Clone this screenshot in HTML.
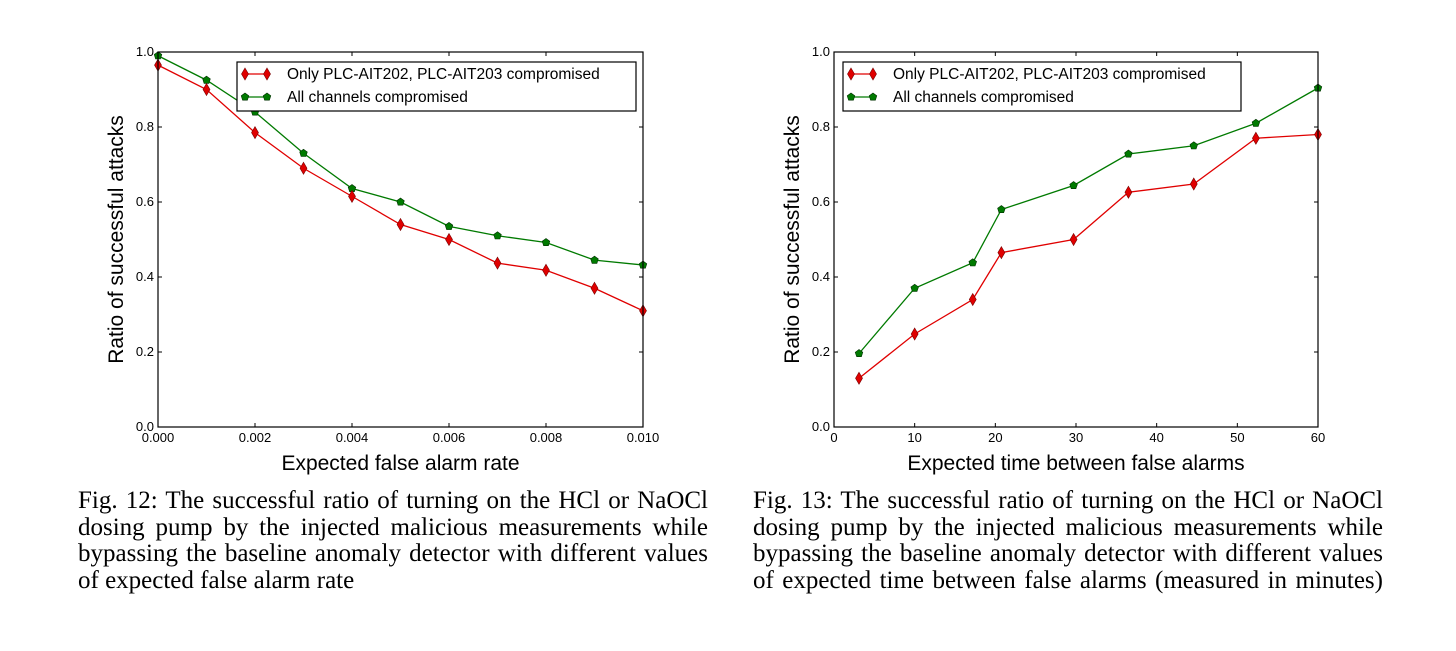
<!DOCTYPE html>
<html><head><meta charset="utf-8">
<style>
body{margin:0;background:#fff;width:1456px;height:651px;overflow:hidden;position:relative}
svg{position:absolute;left:0;top:0}
.cap{position:absolute;font-family:"Liberation Serif",serif;font-size:25px;line-height:26.7px;color:#000;width:630px}
.cap span{display:block;text-align:justify;text-align-last:justify;white-space:nowrap;height:26.7px}
.cap span.last{text-align-last:left}
</style></head><body>
<svg id="svg" width="1456" height="651"></svg>
<div class="cap" style="left:78px;top:488px"><span>Fig. 12: The successful ratio of turning on the HCl or NaOCl</span><span>dosing pump by the injected malicious measurements while</span><span>bypassing the baseline anomaly detector with different values</span><span class="last">of expected false alarm rate</span></div>
<div class="cap" style="left:753px;top:488px"><span>Fig. 13: The successful ratio of turning on the HCl or NaOCl</span><span>dosing pump by the injected malicious measurements while</span><span>bypassing the baseline anomaly detector with different values</span><span>of expected time between false alarms (measured in minutes)</span></div>
<script>
const leftX = [0,0.001,0.002,0.003,0.004,0.005,0.006,0.007,0.008,0.009,0.010];
const leftRed = [0.965,0.90,0.785,0.69,0.615,0.54,0.50,0.437,0.418,0.37,0.31];
const leftGreen = [0.99,0.925,0.84,0.73,0.636,0.60,0.535,0.51,0.492,0.445,0.432];
const leftXTicks = ["0.000","0.002","0.004","0.006","0.008","0.010"];
const rightX = [3.1,10,17.2,20.75,29.7,36.5,44.6,52.3,60];
const rightRed = [0.13,0.248,0.34,0.465,0.50,0.626,0.648,0.77,0.78];
const rightGreen = [0.196,0.37,0.438,0.58,0.644,0.728,0.75,0.81,0.904];
const rightXTicks = ["0","10","20","30","40","50","60"];
const yTicks = ["0.0","0.2","0.4","0.6","0.8","1.0"];
const legendLabels = ["Only PLC-AIT202, PLC-AIT203 compromised","All channels compromised"];

const NS="http://www.w3.org/2000/svg";
const svg=document.getElementById('svg');
function mk(tag,attrs,parent){const e=document.createElementNS(NS,tag);for(const k in attrs)e.setAttribute(k,attrs[k]);(parent||svg).appendChild(e);return e;}
const RED="#e00000",GREEN="#007a00",FONT='"Liberation Sans","DejaVu Sans",sans-serif';
function diamond(g,x,y){const p=mk('polygon',{points:`${x},${y-6} ${x+3.5},${y} ${x},${y+6} ${x-3.5},${y}`,fill:RED,stroke:'#700','stroke-width':0.6},g);}
function pent(g,x,y){let pts=[];for(let i=0;i<5;i++){const a=-Math.PI/2+i*2*Math.PI/5;pts.push((x+4*Math.cos(a)).toFixed(1)+','+(y+4*Math.sin(a)).toFixed(1));}const p=mk('polygon',{points:pts.join(' '),fill:GREEN,stroke:'#003000','stroke-width':0.6},g);}

function chart(name,L,R,xmin,xmax,xs,red,green,xticks,xlabel,legX,legW){
  const T=52,B=427;
  const g=mk('g',{});
  
  
  const sx=v=>L+(v-xmin)/(xmax-xmin)*(R-L), sy=v=>B-v*(B-T);
  yTicks.forEach(t=>{const v=parseFloat(t),y=sy(v);
    mk('line',{x1:L,x2:L+4,y1:y,y2:y,stroke:'#000','stroke-width':1},g);
    mk('line',{x1:R-4,x2:R,y1:y,y2:y,stroke:'#000','stroke-width':1},g);
    const tx=mk('text',{x:L-4,y:y+4,'text-anchor':'end','font-size':13,'font-family':FONT},g);tx.textContent=t;
    });
  xticks.forEach(t=>{const x=sx(parseFloat(t));
    mk('line',{x1:x,x2:x,y1:B,y2:B-4,stroke:'#000','stroke-width':1},g);
    mk('line',{x1:x,x2:x,y1:T,y2:T+4,stroke:'#000','stroke-width':1},g);
    const tx=mk('text',{x:x,y:B+15,'text-anchor':'middle','font-size':13,'font-family':FONT},g);tx.textContent=t;
    });
  const rl=mk('polyline',{points:xs.map((x,i)=>sx(x)+','+sy(red[i])).join(' '),fill:'none',stroke:RED,'stroke-width':1.3},g);
  
  const gl=mk('polyline',{points:xs.map((x,i)=>sx(x)+','+sy(green[i])).join(' '),fill:'none',stroke:GREEN,'stroke-width':1.3},g);
  
  xs.forEach((x,i)=>pent(g,sx(x),sy(green[i])));
  xs.forEach((x,i)=>diamond(g,sx(x),sy(red[i])));
  mk('rect',{x:L,y:T,width:R-L,height:B-T,fill:'none',stroke:'#000','stroke-width':1.2},g);
  const lg=mk('g',{},g);
  
  mk('rect',{x:legX,y:62,width:legW,height:49,fill:'#fff',stroke:'#000','stroke-width':1.2},lg);
  mk('line',{x1:legX+8,x2:legX+30,y1:74,y2:74,stroke:RED,'stroke-width':1.3},lg);
  diamond(lg,legX+8,74);diamond(lg,legX+30,74);
  mk('line',{x1:legX+8,x2:legX+30,y1:97,y2:97,stroke:GREEN,'stroke-width':1.3},lg);
  pent(lg,legX+8,97);pent(lg,legX+30,97);
  legendLabels.forEach((s,i)=>{const t=mk('text',{x:legX+50,y:79+i*23,'font-size':15.5,'font-family':FONT},lg);t.textContent=s;
    });
  const xl=mk('text',{x:(L+R)/2,y:470,'text-anchor':'middle','font-size':21,'font-family':FONT},g);xl.textContent=xlabel;
  
  const yl=mk('text',{x:0,y:0,'text-anchor':'middle','font-size':21,'font-family':FONT,transform:`translate(${L-35},${(T+B)/2}) rotate(-90)`},g);yl.textContent="Ratio of successful attacks";
  
}
chart('chart-false-alarm-rate',158,643,0,0.01,leftX,leftRed,leftGreen,leftXTicks,"Expected false alarm rate",237,399);
chart('chart-time-between-false-alarms',834,1318,0,60,rightX,rightRed,rightGreen,rightXTicks,"Expected time between false alarms",843,398);
</script>
</body></html>
